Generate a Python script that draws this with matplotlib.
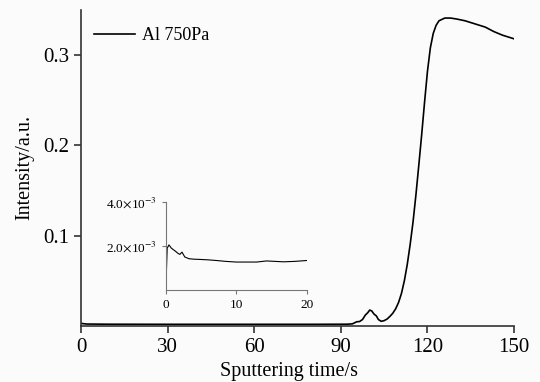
import matplotlib
matplotlib.use("Agg")
import matplotlib.pyplot as plt
from matplotlib.ticker import FixedLocator, FixedFormatter

plt.rcParams['font.family'] = ['Liberation Serif', 'DejaVu Serif']
plt.rcParams['mathtext.fontset'] = 'stix'

# main depth profile (sputtering time in s, intensity in a.u.)
time_s = [0, 0.5, 2, 10, 30, 60, 80, 92, 94, 95.5, 96.5, 97.5, 98.5, 99.3, 100, 100.7,
          101.5, 102.3, 103, 104, 105, 106, 107, 108, 109, 110, 111, 112, 113, 114,
          115, 116, 117, 118, 119, 120, 121, 122, 123, 124, 126, 128, 130, 133, 136,
          140, 143, 146, 150]
intensity = [0.003, 0.0025, 0.002, 0.0018, 0.0017, 0.0017, 0.0017, 0.0018, 0.0022, 0.0045,
             0.0048, 0.007, 0.012, 0.0145, 0.0175, 0.0165, 0.013, 0.011, 0.007, 0.005,
             0.0058, 0.0075, 0.0105, 0.014, 0.019, 0.026, 0.036, 0.05, 0.068, 0.09,
             0.115, 0.145, 0.178, 0.212, 0.248, 0.282, 0.308, 0.324, 0.333, 0.338,
             0.341, 0.341, 0.340, 0.338, 0.335, 0.331, 0.326, 0.322, 0.318]

# inset: first 20 s
inset_t = [0, 0.2, 0.45, 0.8, 1.3, 1.8, 2.0, 2.3, 2.7, 3.3, 4.0, 4.8, 6.0, 7.2, 8.5,
           10, 11.5, 12.9, 14.3, 15.5, 16.7, 18.3, 20]
inset_i = [0.0, 0.0019, 0.00205, 0.0019, 0.00178, 0.00165, 0.00162, 0.00172, 0.0015,
           0.00142, 0.0014, 0.00139, 0.00137, 0.00134, 0.0013, 0.00127, 0.00127,
           0.00127, 0.00132, 0.0013, 0.00128, 0.0013, 0.00134]

fig = plt.figure(figsize=(5.4, 3.82), dpi=100)
fig.patch.set_facecolor('#fbfbfb')
ax = fig.add_axes([0.150, 0.147, 0.802, 0.827])
ax.set_facecolor('#fbfbfb')
ax.plot(time_s, intensity, color='black', lw=1.2, label='Al 750Pa')
ax.set_xlim(0, 150)
ax.set_ylim(0, 0.35)
ax.set_xticks([0, 30, 60, 90, 120, 150])
ax.set_yticks([0.1, 0.2, 0.3])
ax.set_yticklabels(['0.1', '0.2', '0.3'])
for s in ['top', 'right']:
    ax.spines[s].set_visible(False)
for s in ['left', 'bottom']:
    ax.spines[s].set_color('#333333')
    ax.spines[s].set_linewidth(1.2)
ax.tick_params(direction='out', length=5, width=1.2, labelsize=15, color='#333333')
ax.set_xlabel('Sputtering time/s', fontsize=14.5, labelpad=4)
ax.xaxis.set_label_coords(0.48, -0.115)
ax.set_ylabel('Intensity/a.u.', fontsize=14.5, labelpad=6)
ax.legend(loc='upper left', frameon=False, fontsize=13, handlelength=2.3,
          handletextpad=0.4, borderaxespad=0.3, bbox_to_anchor=(0.0, 0.985))

ins = fig.add_axes([0.307, 0.241, 0.261, 0.230])
ins.patch.set_alpha(0)
ins.plot(inset_t, inset_i, color='black', lw=0.8)
ins.set_xlim(0, 20)
ins.set_ylim(0, 0.004)
ins.set_xticks([0, 10, 20])
ins.yaxis.set_major_locator(FixedLocator([0.002, 0.004]))
ins.yaxis.set_major_formatter(FixedFormatter([r'2.0$\times$10$^{-3}$', r'4.0$\times$10$^{-3}$']))
for s in ['top', 'right']:
    ins.spines[s].set_visible(False)
for s in ['left', 'bottom']:
    ins.spines[s].set_color('#777777')
ins.tick_params(direction='out', length=3, labelsize=9.5, color='#777777')

fig.savefig('out.png', dpi=100, facecolor=fig.get_facecolor())
